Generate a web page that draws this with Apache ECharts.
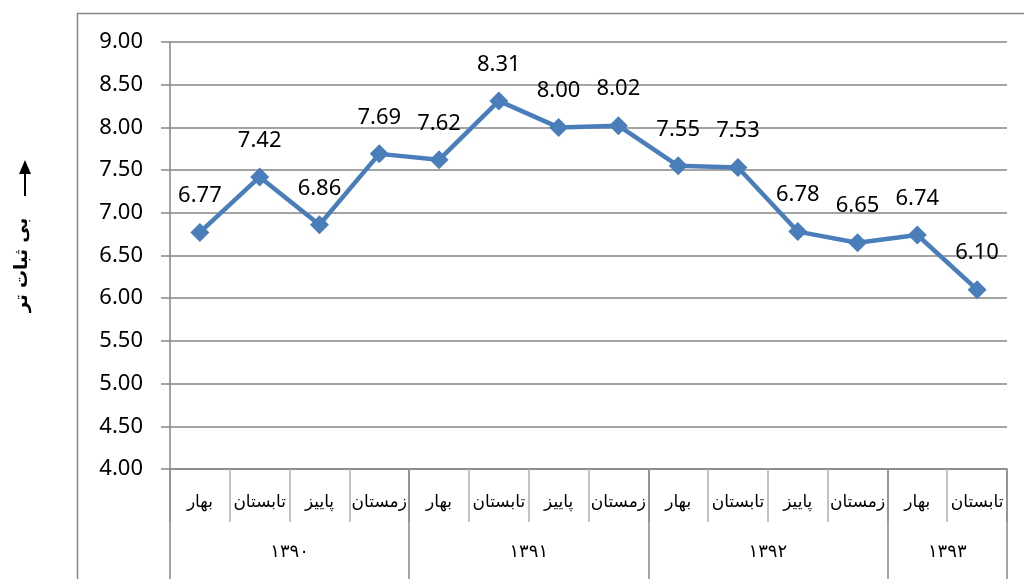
<!DOCTYPE html>
<html>
<head>
<meta charset="utf-8">
<script src="https://cdn.jsdelivr.net/npm/echarts@6/dist/echarts.min.js"></script>
<style>
  html, body { margin: 0; padding: 0; background: #fff; }
  #chart { width: 1024px; height: 579px; }
</style>
</head>
<body>
<div id="chart"></div>
<script>
// فصل ها و سال ها
const seasons = ['بهار', 'تابستان', 'پاییز', 'زمستان', 'بهار', 'تابستان', 'پاییز', 'زمستان',
  'بهار', 'تابستان', 'پاییز', 'زمستان', 'بهار', 'تابستان']
// year row: 15 boundary slots, label sits in the middle of each group
const yearSlots = ['', '', '۱۳۹۰', '', '', '', '۱۳۹۱', '', '', '', '۱۳۹۲', '', '', '۱۳۹۳', '']
const yearBounds = [0, 4, 8, 12, 14]
const values = [6.77, 7.42, 6.86, 7.69, 7.62, 8.31, 8.00, 8.02, 7.55, 7.53, 6.78, 6.65, 6.74, 6.10]
const yTicks = { min: 4, max: 9, step: 0.5 }
const axisName = 'بی ثبات تر'

const chart = echarts.init(document.getElementById('chart'))
const gray = '#868686'

const option = {
  animation: false,
  grid: { left: 170, right: 17, top: 42, bottom: 110 },
  xAxis: [
    {
      type: 'category',
      data: seasons,
      position: 'bottom',
      axisLine: { show: true, lineStyle: { color: gray, width: 1.5 } },
      axisTick: { show: true, interval: 0, length: 53, lineStyle: { color: '#b0b0b0', width: 1.5 } },
      axisLabel: { interval: 0, margin: 25, fontSize: 17, color: '#000', fontFamily: 'DejaVu Sans' }
    },
    {
      type: 'category',
      data: yearSlots,
      boundaryGap: false,
      position: 'bottom',
      axisLine: { show: false },
      axisTick: {
        show: true,
        length: 112,
        interval: (i) => yearBounds.includes(i),
        lineStyle: { color: gray, width: 1.5 }
      },
      axisLabel: {
        interval: 0,
        margin: 74,
        fontSize: 18,
        color: '#000',
        fontFamily: 'DejaVu Sans'
      }
    }
  ],
  yAxis: {
    type: 'value',
    min: yTicks.min,
    max: yTicks.max,
    interval: yTicks.step,
    axisLine: { show: true, lineStyle: { color: gray, width: 1.5 } },
    axisTick: { show: true, length: 9, lineStyle: { color: gray, width: 1.5 } },
    axisLabel: {
      margin: 27,
      fontSize: 22,
      color: '#000',
      fontFamily: 'Noto Sans',
      formatter: (v) => v.toFixed(2)
    },
    splitLine: { show: true, lineStyle: { color: gray, width: 1.5 } }
  },
  graphic: [
    {
      type: 'rect',
      shape: { x: 77.5, y: 13.5, width: 1000, height: 600 },
      style: { fill: 'none', stroke: gray, lineWidth: 1.5 },
      silent: true,
      z: -1
    },
    {
      type: 'line',
      shape: { x1: 25, y1: 196, x2: 25, y2: 172 },
      style: { stroke: '#000', lineWidth: 2 }
    },
    {
      type: 'polygon',
      shape: { points: [[19, 174], [31, 174], [25, 160]] },
      style: { fill: '#000' }
    },
    {
      type: 'text',
      x: 22,
      y: 265,
      rotation: Math.PI / 2,
      style: {
        text: axisName,
        fontSize: 18,
        fontWeight: 'bold',
        fontFamily: 'DejaVu Sans',
        fill: '#000',
        align: 'center',
        verticalAlign: 'middle'
      }
    }
  ],
  series: [
    {
      type: 'line',
      data: values,
      xAxisIndex: 0,
      symbol: 'diamond',
      symbolSize: 19,
      lineStyle: { color: '#4a7ebb', width: 4.5 },
      itemStyle: { color: '#4a7ebb' },
      label: {
        show: true,
        position: 'top',
        distance: 16,
        fontSize: 22,
        color: '#000',
        fontFamily: 'Noto Sans',
        formatter: (p) => p.value.toFixed(2)
      }
    }
  ]
}

chart.setOption(option)
</script>
</body>
</html>
